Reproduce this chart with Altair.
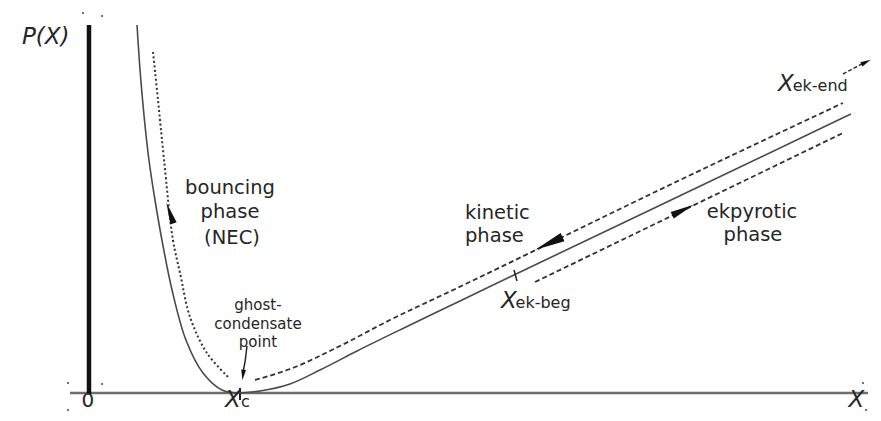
import altair as alt
import pandas as pd

# ---- scale domains (X in units of X_c, P in arbitrary units) ----
X_DOM = [-0.5364, 5.1921]
P_DOM = [-0.20, 3.85]

# ---- curves ----
# left (bouncing) branch of the solid P(X) curve, down to the ghost-condensate point
solid_left_x = [0.318, 0.338, 0.364, 0.397, 0.437, 0.483, 0.550, 0.642, 0.755, 0.881, 1.000]
solid_left_p = [3.68, 3.23, 2.78, 2.33, 1.93, 1.53, 1.03, 0.53, 0.20, 0.03, 0.00]
# right (kinetic / ekpyrotic) branch
solid_right_x = [1.000, 1.132, 1.331, 1.530, 1.775, 2.106, 2.457, 2.821, 4.132, 5.046]
solid_right_p = [0.00, 0.02, 0.09, 0.23, 0.42, 0.665, 0.92, 1.185, 2.13, 2.79]

bounce_x = [0.424, 0.457, 0.497, 0.556, 0.603, 0.669, 0.781, 0.921]
bounce_p = [3.41, 2.93, 2.33, 1.53, 1.20, 0.76, 0.40, 0.16]

kinetic_x = [1.099, 1.331, 1.662, 1.993, 2.411, 3.914, 4.993]
kinetic_p = [0.13, 0.24, 0.47, 0.73, 1.03, 2.13, 2.90]

ekpyrotic_x = [2.954, 4.993]
ekpyrotic_p = [1.11, 2.60]

end_x = [4.993, 5.130]
end_p = [3.19, 3.30]

ghost_x = [1.046, 1.033, 1.020]
ghost_p = [0.47, 0.31, 0.21]

ekbeg_tick_x = [2.815, 2.834]
ekbeg_tick_p = [1.23, 1.12]

# ---- arrowheads ----
arrow_x = [3.046, 3.934, 0.536]
arrow_p = [1.495, 1.83, 1.80]
arrow_angle = [245, 64, 341]
arrow_size = [900, 576, 484]

small_arrow_x = [1.020, 5.146]
small_arrow_p = [0.18, 3.31]
small_arrow_angle = [187, 64]

# ---- scan specks ----
speck_x = [-0.040, 0.086, -0.139, 0.086, -0.139, 5.126, 5.146]
speck_p = [3.80, 3.77, 0.10, 0.09, -0.17, 0.10, -0.17]

# ---- text ----
center_text = ["bouncing", "phase", "(NEC)", "ekpyrotic", "phase"]
center_x = [0.934, 0.934, 0.947, 4.391, 4.397]
center_p = [1.99, 1.755, 1.49, 1.75, 1.52]

left_text = ["kinetic", "phase"]
left_x = [2.490, 2.490]
left_p = [1.74, 1.515]

ghost_text = ["ghost-", "condensate", "point"]
ghost_tx = [1.119, 1.119, 1.119]
ghost_tp = [0.83, 0.645, 0.46]

ital_text = ["P(X)", "X", "X", "X", "X"]
ital_x = [-0.444, 2.728, 4.563, 0.901, 5.030]
ital_p = [3.49, 0.85, 3.02, -0.14, -0.14]

sub_text = ["ek-beg", "ek-end", "c"]
sub_x = [2.825, 4.660, 1.006]
sub_p = [0.85, 3.02, -0.14]

zero_text = ["0"]
zero_x = [-0.007]
zero_p = [-0.14]

xs = alt.Scale(domain=X_DOM, nice=False, zero=False)
ps = alt.Scale(domain=P_DOM, nice=False, zero=False)
ARROW = "M0,-1L0.3,1L-0.3,1Z"
FONT = "DejaVu Sans"
TXT = "#262626"


def df(x, p, **extra):
    d = pd.DataFrame({"x": x, "p": p, "i": list(range(len(x)))})
    for k, v in extra.items():
        d[k] = v
    return d


def enc(chart):
    return chart.encode(x=alt.X("x:Q", scale=xs, axis=None),
                        y=alt.Y("p:Q", scale=ps, axis=None))


def curve(x, p, **kw):
    return enc(alt.Chart(df(x, p)).mark_line(**kw)).encode(order="i:Q")


layers = []

# axes
layers.append(alt.Chart(pd.DataFrame({"x": [-0.126], "x2": [5.159], "p": [0.0]})).mark_rule(
    color="#6e6e6e", strokeWidth=2.5).encode(
    x=alt.X("x:Q", scale=xs, axis=None), x2="x2:Q", y=alt.Y("p:Q", scale=ps, axis=None)))
layers.append(alt.Chart(pd.DataFrame({"x": [0.0], "p": [3.68], "p2": [-0.01]})).mark_rule(
    color="#111111", strokeWidth=4.5).encode(
    x=alt.X("x:Q", scale=xs, axis=None), y=alt.Y("p:Q", scale=ps, axis=None), y2="p2:Q"))
layers.append(alt.Chart(pd.DataFrame({"x": [1.0], "p": [0.05], "p2": [-0.07]})).mark_rule(
    color="#222222", strokeWidth=2).encode(
    x=alt.X("x:Q", scale=xs, axis=None), y=alt.Y("p:Q", scale=ps, axis=None), y2="p2:Q"))

# curves
layers.append(curve(solid_left_x, solid_left_p, color="#4a4a4a", strokeWidth=1.6,
                    interpolate="catmull-rom"))
layers.append(curve(solid_right_x, solid_right_p, color="#4a4a4a", strokeWidth=1.6,
                    interpolate="monotone"))
layers.append(curve(bounce_x, bounce_p, color="#333333", strokeWidth=2, strokeDash=[2, 2.5],
                    interpolate="catmull-rom"))
layers.append(curve(kinetic_x, kinetic_p, color="#333333", strokeWidth=1.8, strokeDash=[5, 3],
                    interpolate="monotone"))
layers.append(curve(ekpyrotic_x, ekpyrotic_p, color="#333333", strokeWidth=1.8, strokeDash=[5, 3]))
layers.append(curve(end_x, end_p, color="#333333", strokeWidth=1.5, strokeDash=[4, 2]))
layers.append(curve(ghost_x, ghost_p, color="#222222", strokeWidth=1.5, interpolate="catmull-rom"))
layers.append(curve(ekbeg_tick_x, ekbeg_tick_p, color="#222222", strokeWidth=1.5))

# arrowheads
layers.append(enc(alt.Chart(df(arrow_x, arrow_p, a=arrow_angle, s=arrow_size)).mark_point(
    shape=ARROW, filled=True, color="#111111", opacity=1, strokeWidth=0)).encode(
    angle=alt.Angle("a:Q", scale=None), size=alt.Size("s:Q", scale=None)))
layers.append(enc(alt.Chart(df(small_arrow_x, small_arrow_p, a=small_arrow_angle)).mark_point(
    shape="M0,-1L0.45,1L-0.45,1Z", filled=True, color="#111111", opacity=1, size=110,
    strokeWidth=0)).encode(angle=alt.Angle("a:Q", scale=None)))

# specks
layers.append(enc(alt.Chart(df(speck_x, speck_p)).mark_point(
    shape="circle", filled=True, color="#555555", size=5, opacity=1)))

# text
layers.append(enc(alt.Chart(df(center_x, center_p, t=center_text)).mark_text(
    font=FONT, fontSize=19.5, align="center", baseline="alphabetic", color=TXT)).encode(text="t:N"))
layers.append(enc(alt.Chart(df(left_x, left_p, t=left_text)).mark_text(
    font=FONT, fontSize=19.5, align="left", baseline="alphabetic", color=TXT)).encode(text="t:N"))
layers.append(enc(alt.Chart(df(ghost_tx, ghost_tp, t=ghost_text)).mark_text(
    font=FONT, fontSize=15, align="center", baseline="alphabetic", color=TXT)).encode(text="t:N"))
layers.append(enc(alt.Chart(df(ital_x, ital_p, t=ital_text)).mark_text(
    font=FONT, fontSize=23, fontStyle="italic", align="left", baseline="alphabetic",
    color=TXT)).encode(text="t:N"))
layers.append(enc(alt.Chart(df(sub_x, sub_p, t=sub_text)).mark_text(
    font=FONT, fontSize=16, align="left", baseline="alphabetic", color=TXT)).encode(text="t:N"))
layers.append(enc(alt.Chart(df(zero_x, zero_p, t=zero_text)).mark_text(
    font=FONT, fontSize=20, align="center", baseline="alphabetic", color=TXT)).encode(text="t:N"))

chart = alt.layer(*layers).properties(
    width=865, height=405, padding=0,
    autosize=alt.AutoSizeParams(type="none"),
).configure_view(stroke=None)

chart.save("out.html", embed_options={"renderer": "svg", "actions": False})
